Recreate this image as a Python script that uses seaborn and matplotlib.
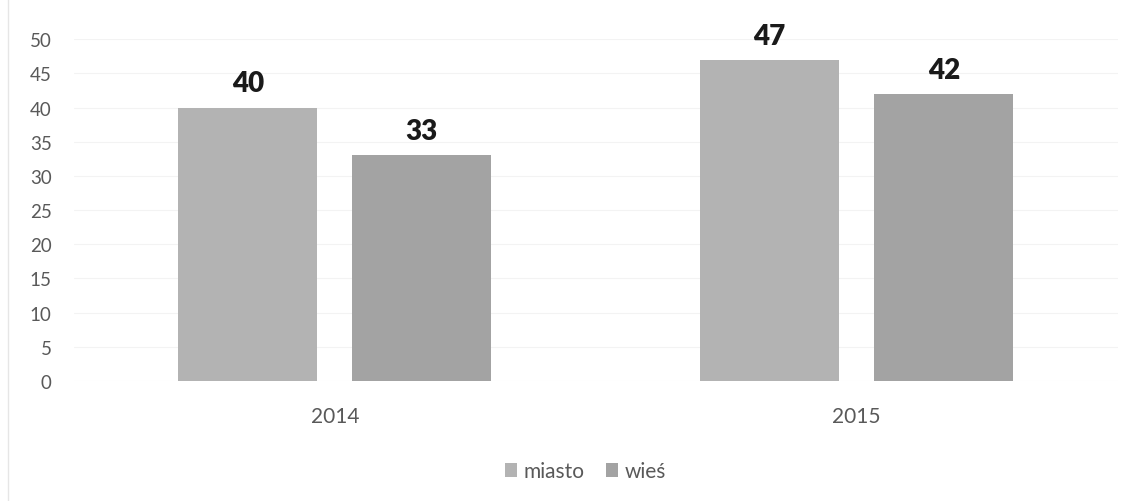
import numpy as np
import pandas as pd
import matplotlib
matplotlib.use("Agg")
import matplotlib.pyplot as plt
import seaborn as sns

years = ["2014", "2015"]
groups = ["miasto", "wieś"]
miasto = [40, 47]
wies = [33, 42]
yticks = [0, 5, 10, 15, 20, 25, 30, 35, 40, 45, 50]

df = pd.DataFrame({
    "rok": years * 2,
    "grupa": [groups[0]] * len(years) + [groups[1]] * len(years),
    "wartosc": miasto + wies,
})

sns.set_theme(style="white")
plt.rcParams['font.family'] = ['Lato', 'DejaVu Sans']

fig = plt.figure(figsize=(11.37, 5.02), dpi=100)
ax = fig.add_axes([0.065, 0.239, 0.918, 0.681])

palette = {"miasto": "#b3b3b3", "wieś": "#a3a3a3"}
sns.barplot(data=df, x="rok", y="wartosc", hue="grupa", order=years,
            hue_order=groups, palette=palette, width=0.667, gap=0.2,
            saturation=1, edgecolor="none", ax=ax, legend=True)

# etykiety wartosci nad slupkami
for cont in ax.containers:
    ax.bar_label(cont, fmt="%d", padding=8, fontsize=20, fontweight="heavy",
                 color="#1a1a1a")

ax.set_ylim(0, 50)
ax.set_xlim(-0.5, 1.5)
ax.set_yticks(yticks)
ax.yaxis.grid(True, color="#f3f3f3", linewidth=0.8)
ax.set_axisbelow(True)
for s in ax.spines.values():
    s.set_visible(False)
ax.set_xlabel("")
ax.set_ylabel("")
ax.tick_params(axis="y", labelsize=13.5, labelcolor="#595959", length=0, pad=16)
ax.tick_params(axis="x", labelsize=15, labelcolor="#595959", length=0, pad=18)

leg = ax.legend(loc="upper center", bbox_to_anchor=(0.49, -0.18), ncol=2,
                frameon=False, fontsize=15, handlelength=0.6, handleheight=0.6,
                handletextpad=0.3, columnspacing=1.0)
for t in leg.get_texts():
    t.set_color("#595959")

fig.add_artist(plt.Line2D([0.007, 0.007], [0.0, 1.0], color="#e6e6e6", linewidth=1))

fig.savefig("out.png", dpi=100)
